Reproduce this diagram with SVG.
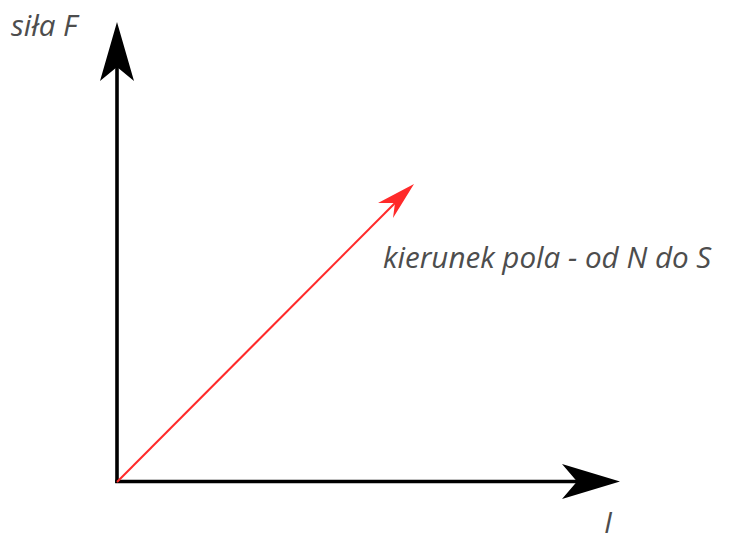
<svg xmlns="http://www.w3.org/2000/svg" width="733" height="535" viewBox="0 0 733 535">
<style>
.lbl{font-family:"Open Sans","Noto Sans",sans-serif;font-style:italic;font-size:29.6px;fill:#4d4d4d}
.axis{stroke:#000;stroke-width:3.6;fill:none}
.vec{stroke:#ff2a2a;stroke-width:2;fill:none}
</style>
<rect width="733" height="535" fill="#fff"/>
<g id="connectors">
<line class="axis" x1="117" y1="483" x2="117" y2="64"/>
<polygon points="117,22 100,81 117,67 134,81" fill="#000"/>
<line class="axis" x1="115.2" y1="481.5" x2="580" y2="481.5"/>
<polygon points="620,481.5 562,464 577,481.5 562,499" fill="#000"/>
<line class="vec" x1="117" y1="482" x2="398" y2="200"/>
<polygon points="414,184 393,218 395,203 378,203" fill="#ff2a2a"/>
</g>
<g id="label-force"><text class="lbl" x="11" y="36">siła F</text></g>
<g id="label-field"><text class="lbl" x="383" y="268">kierunek pola - od N do S</text></g>
<g id="label-current"><text class="lbl" x="604" y="533">I</text></g>
</svg>
